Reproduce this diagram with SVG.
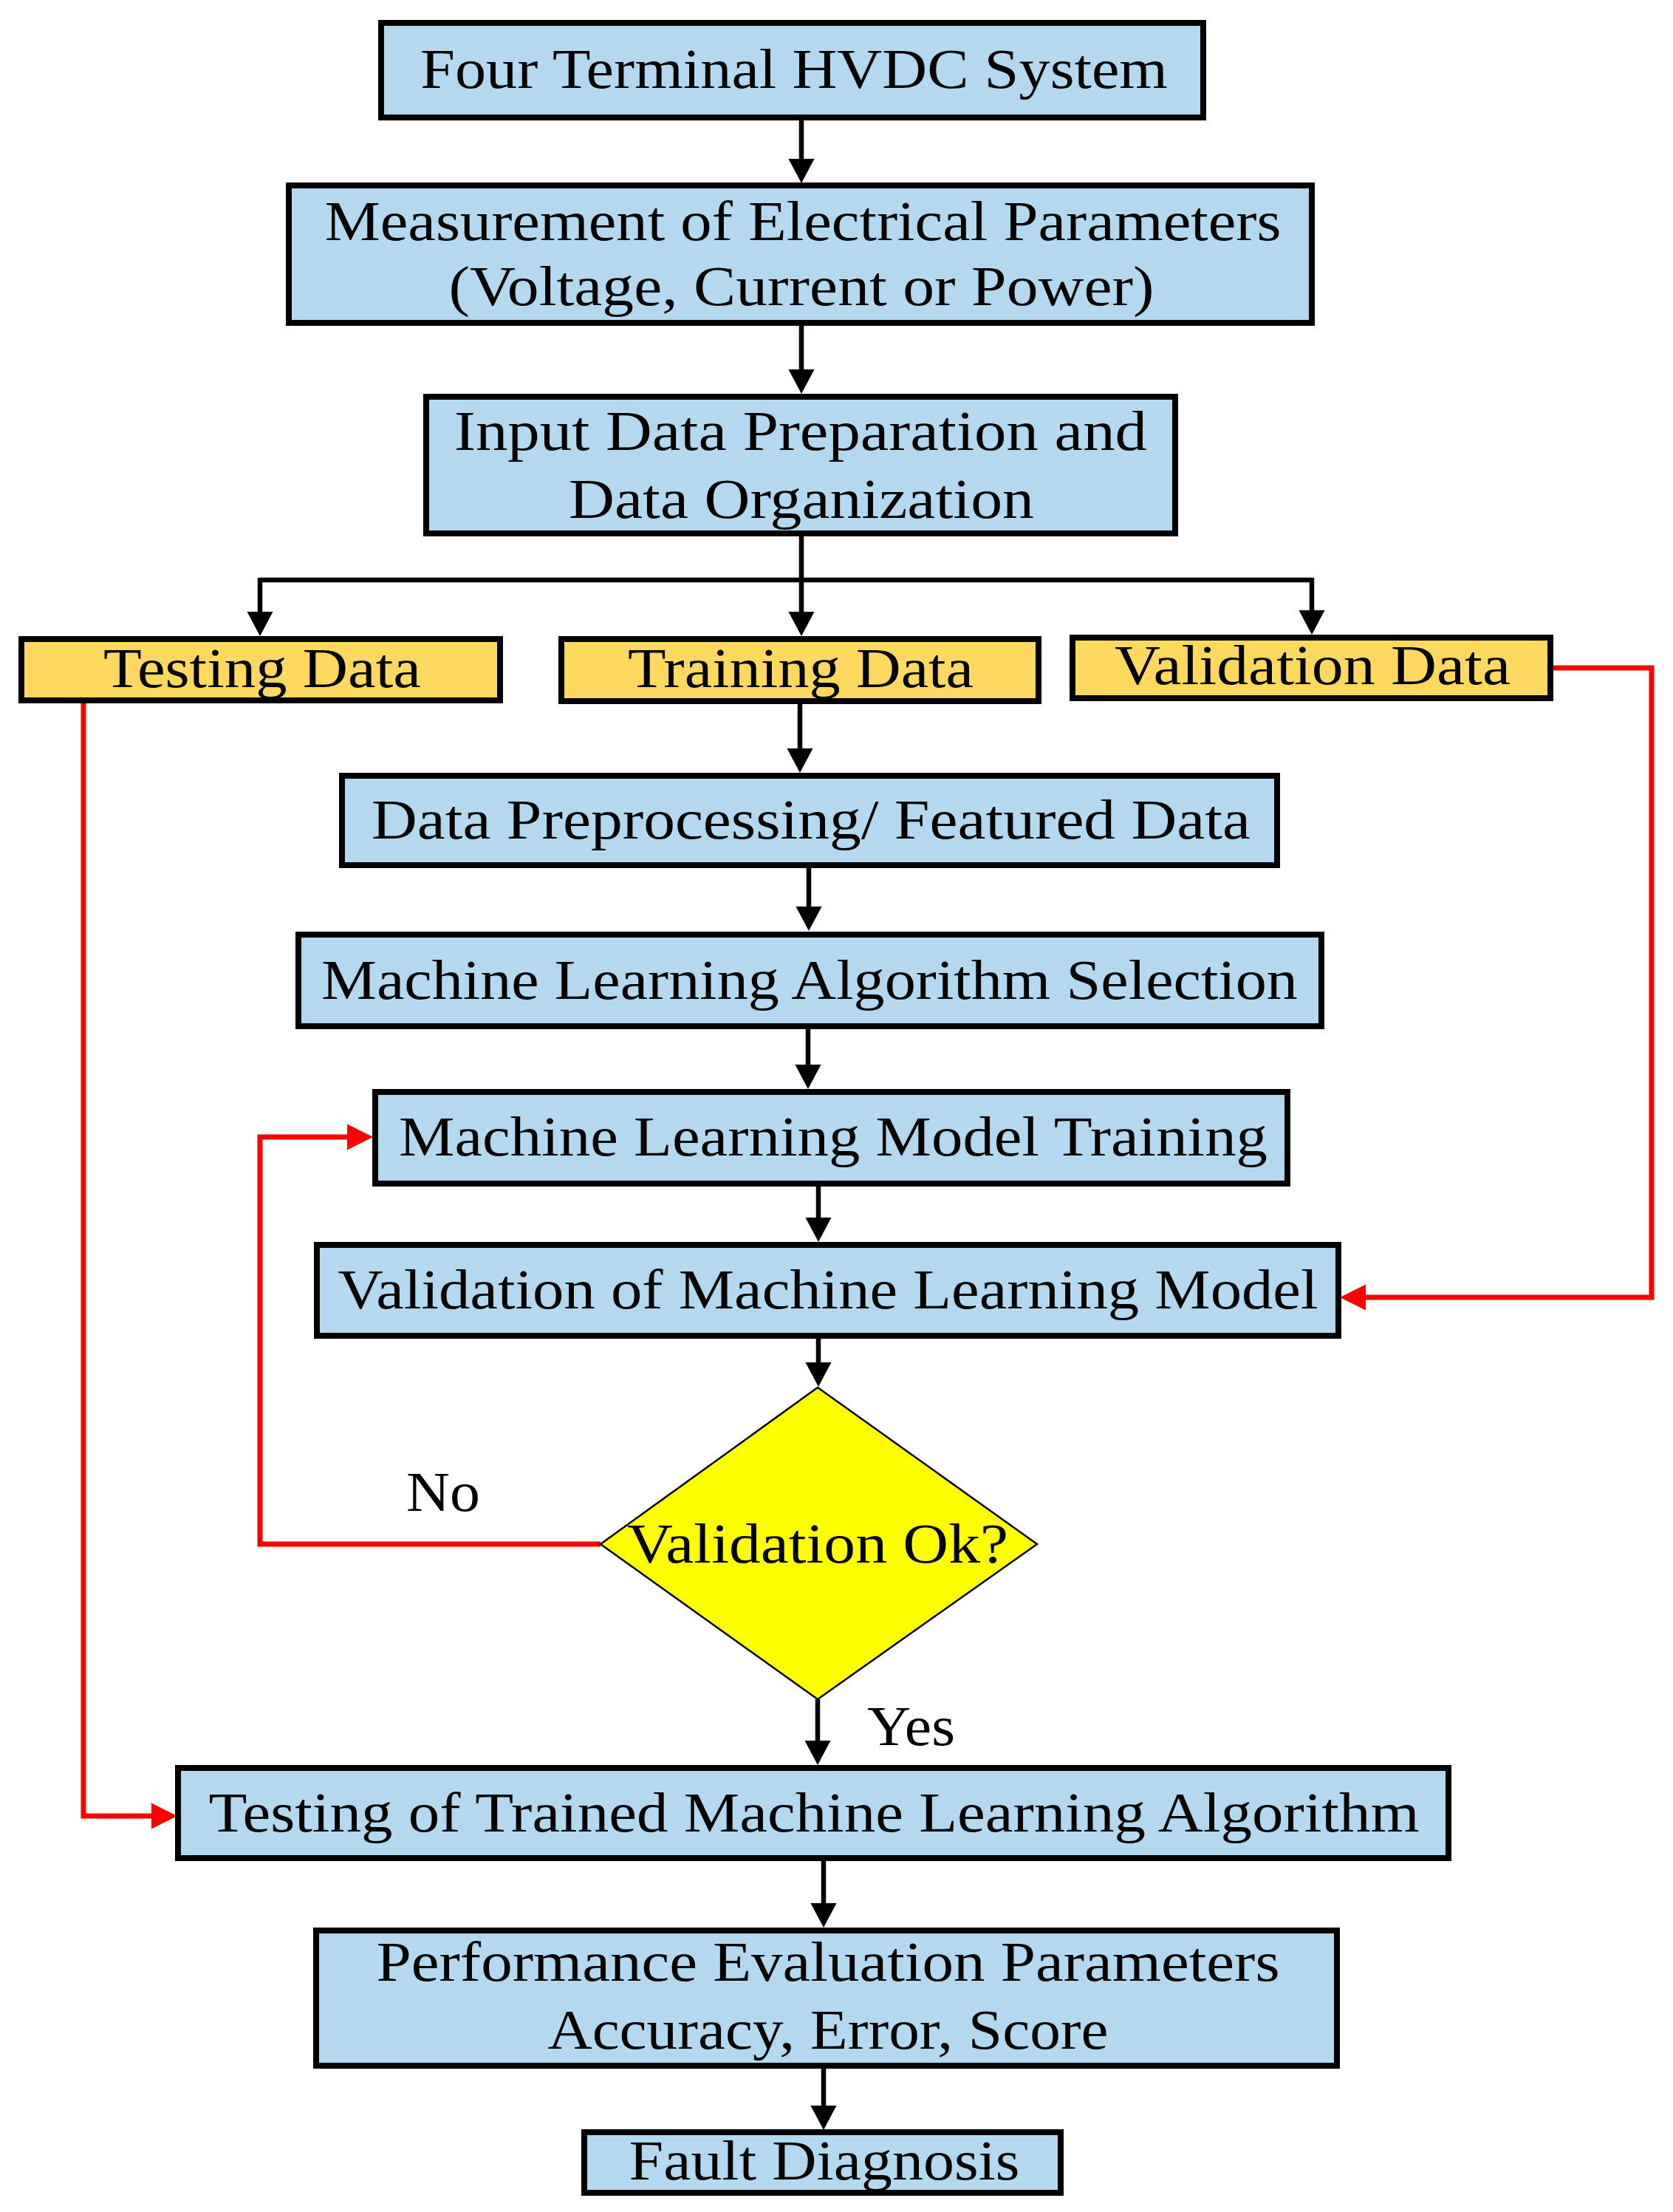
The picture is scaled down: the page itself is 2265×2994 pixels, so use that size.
<svg xmlns="http://www.w3.org/2000/svg" width="2265" height="2994" viewBox="0 0 2265 2994">
<style>
.box{fill:#B4D8EF;stroke:#000;stroke-width:8}
.data{fill:#FFD95F;stroke:#000;stroke-width:8}
.dec{fill:#FFFF00;stroke:#000;stroke-width:2.5}
.t{font-family:"Liberation Serif","Times New Roman",serif;font-size:77px;fill:#000;text-anchor:middle}
.lbl{font-family:"Liberation Serif","Times New Roman",serif;font-size:77px;fill:#000}
.k{fill:none;stroke:#000;stroke-width:6.5}
.r{fill:none;stroke:#FF0000;stroke-width:7}
</style>
<defs>
<marker id="ak" markerUnits="userSpaceOnUse" markerWidth="34" markerHeight="36" refX="0" refY="17.5" orient="auto" overflow="visible">
<path d="M0,0 L33,17.5 L0,35 Z" fill="#000"/>
</marker>
<marker id="ar" markerUnits="userSpaceOnUse" markerWidth="36" markerHeight="36" refX="0" refY="17.5" orient="auto" overflow="visible">
<path d="M0,0 L35,17.5 L0,35 Z" fill="#FF0000"/>
</marker>
</defs>
<rect width="2265" height="2994" fill="#fff"/>
<g id="connectors">
<path class="k" d="M1085,161 V215" marker-end="url(#ak)"/>
<path class="k" d="M1085,439 V500" marker-end="url(#ak)"/>
<path class="k" d="M1085,724 V785"/>
<path class="k" d="M352,785 H1776"/>
<path class="k" d="M352,782 V828" marker-end="url(#ak)"/>
<path class="k" d="M1085,785 V828" marker-end="url(#ak)"/>
<path class="k" d="M1776,782 V826" marker-end="url(#ak)"/>
<path class="k" d="M1083,950 V1013" marker-end="url(#ak)"/>
<path class="k" d="M1095,1173 V1227" marker-end="url(#ak)"/>
<path class="k" d="M1094,1392 V1441" marker-end="url(#ak)"/>
<path class="k" d="M1108,1604 V1648" marker-end="url(#ak)"/>
<path class="k" d="M1108,1810 V1844" marker-end="url(#ak)"/>
<path class="k" d="M1107,2300 V2356" marker-end="url(#ak)"/>
<path class="k" d="M1115,2517 V2576" marker-end="url(#ak)"/>
<path class="k" d="M1115,2798 V2850" marker-end="url(#ak)"/>
<path class="r" d="M113,952 V2458 H205" marker-end="url(#ar)"/>
<path class="r" d="M2103,904 H2236 V1756 H1849" marker-end="url(#ar)"/>
<path class="r" d="M813,2090 H352 V1539 H470" marker-end="url(#ar)"/>
</g>
<g id="n1"><rect class="box" x="516" y="31" width="1113" height="128"/><text class="t" x="1075" y="119" textLength="1012" lengthAdjust="spacingAndGlyphs">Four Terminal HVDC System</text></g>
<g id="n2"><rect class="box" x="391" y="251" width="1385" height="186"/><text class="t" x="1087" y="325" textLength="1295" lengthAdjust="spacingAndGlyphs">Measurement of Electrical Parameters</text><text class="t" x="1085" y="413" textLength="955" lengthAdjust="spacingAndGlyphs">(Voltage, Current or Power)</text></g>
<g id="n3"><rect class="box" x="577" y="537" width="1014" height="185"/><text class="t" x="1084" y="609" textLength="938" lengthAdjust="spacingAndGlyphs">Input Data Preparation and</text><text class="t" x="1085" y="701" textLength="630" lengthAdjust="spacingAndGlyphs">Data Organization</text></g>
<g id="n4"><rect class="data" x="29" y="865" width="648" height="83"/><text class="t" x="355" y="930" textLength="430" lengthAdjust="spacingAndGlyphs">Testing Data</text></g>
<g id="n5"><rect class="data" x="760" y="865" width="646" height="84"/><text class="t" x="1084" y="930" textLength="468" lengthAdjust="spacingAndGlyphs">Training Data</text></g>
<g id="n6"><rect class="data" x="1452" y="863" width="647" height="82"/><text class="t" x="1777" y="926" textLength="536" lengthAdjust="spacingAndGlyphs">Validation Data</text></g>
<g id="n7"><rect class="box" x="463" y="1050" width="1266" height="121"/><text class="t" x="1098" y="1135" textLength="1190" lengthAdjust="spacingAndGlyphs">Data Preprocessing/ Featured Data</text></g>
<g id="n8"><rect class="box" x="404" y="1265" width="1385" height="124"/><text class="t" x="1096" y="1352" textLength="1322" lengthAdjust="spacingAndGlyphs">Machine Learning Algorithm Selection</text></g>
<g id="n9"><rect class="box" x="508" y="1478" width="1235" height="124"/><text class="t" x="1128" y="1564" textLength="1176" lengthAdjust="spacingAndGlyphs">Machine Learning Model Training</text></g>
<g id="n10"><rect class="box" x="429" y="1685" width="1383" height="123"/><text class="t" x="1121" y="1771" textLength="1327" lengthAdjust="spacingAndGlyphs">Validation of Machine Learning Model</text></g>
<g id="n11"><path class="dec" d="M1107,1878 L1404,2090 L1107,2300 L813,2090 Z"/><text class="t" x="1107" y="2115" textLength="516" lengthAdjust="spacingAndGlyphs">Validation Ok?</text></g>
<g id="n12"><rect class="box" x="241" y="2393" width="1720" height="122"/><text class="t" x="1102" y="2479" textLength="1639" lengthAdjust="spacingAndGlyphs">Testing of Trained Machine Learning Algorithm</text></g>
<g id="n13"><rect class="box" x="428" y="2613" width="1382" height="183"/><text class="t" x="1121" y="2681" textLength="1223" lengthAdjust="spacingAndGlyphs">Performance Evaluation Parameters</text><text class="t" x="1121" y="2773" textLength="759" lengthAdjust="spacingAndGlyphs">Accuracy, Error, Score</text></g>
<g id="n14"><rect class="box" x="791" y="2886" width="645" height="82"/><text class="t" x="1116" y="2950" textLength="529" lengthAdjust="spacingAndGlyphs">Fault Diagnosis</text></g>
<text class="lbl" x="550" y="2045" textLength="100" lengthAdjust="spacingAndGlyphs">No</text>
<text class="lbl" x="1174" y="2362" textLength="119" lengthAdjust="spacingAndGlyphs">Yes</text>
</svg>
